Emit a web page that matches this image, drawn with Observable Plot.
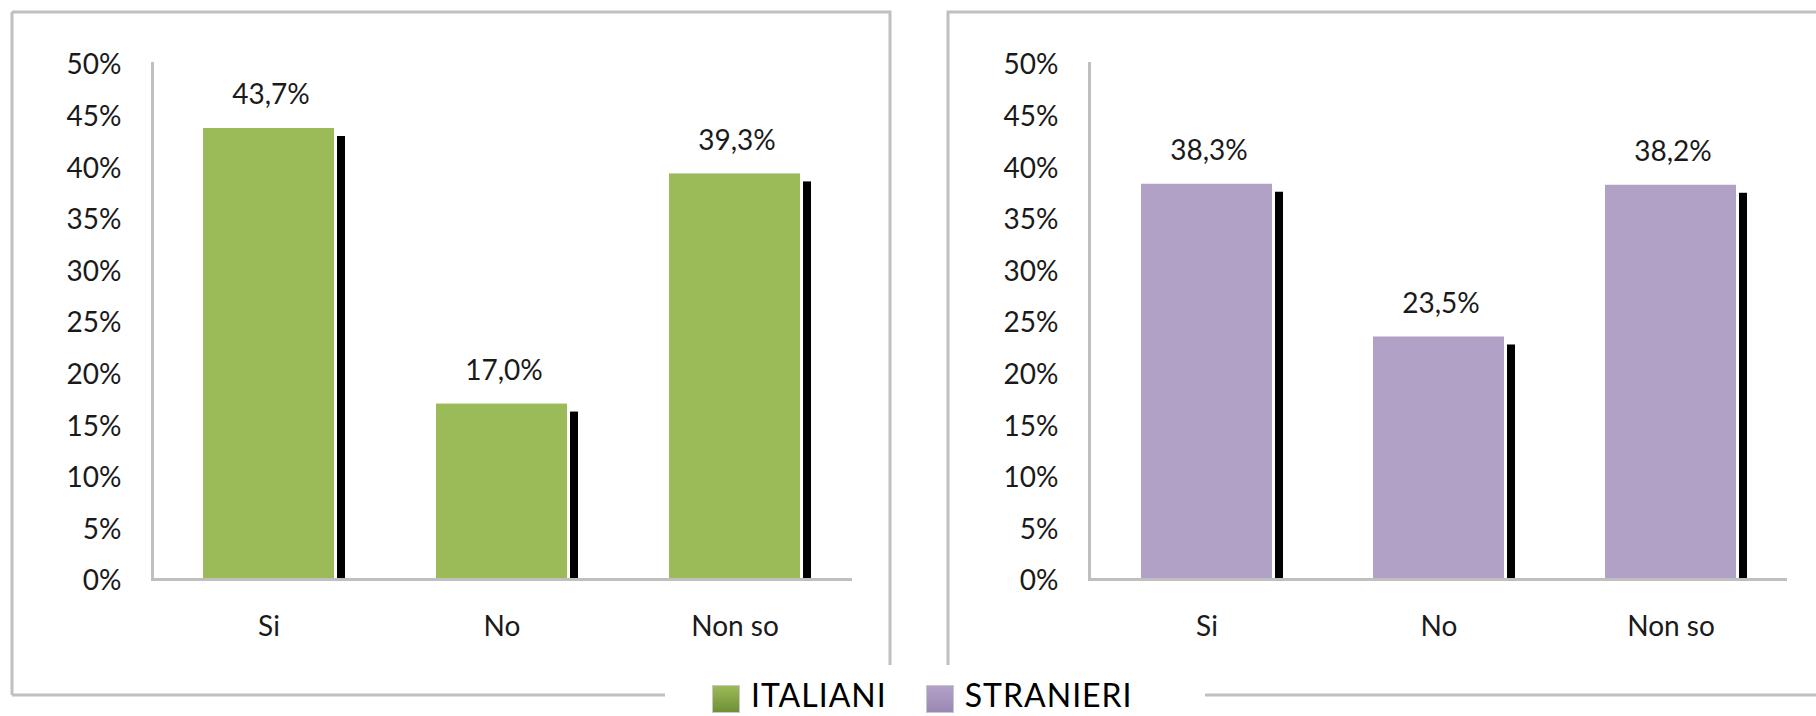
<!DOCTYPE html>
<html>
<head>
<meta charset="utf-8">
<script src="https://cdn.jsdelivr.net/npm/d3@7"></script>
<script src="https://cdn.jsdelivr.net/npm/@observablehq/plot@0.6"></script>
<style>
  html, body { margin: 0; padding: 0; background: #fff; }
  #root { position: relative; width: 1816px; height: 716px; overflow: hidden; background: #fff; font-family: Lato, "Open Sans", sans-serif; }
  .panel { position: absolute; top: 12px; }
  #frames { position: absolute; left: 0; top: 0; pointer-events: none; }
  #legend { position: absolute; left: 712px; top: 679px; display: flex; align-items: flex-start; font-family: Lato, sans-serif; font-size: 32px; line-height: 1; color: #000; letter-spacing: 1px; }
  .item { display: flex; align-items: flex-start; margin-right: 39px; }
  .sw { width: 26px; height: 26px; margin-top: 6px; margin-right: 11px; border: 1px solid #c8c8c8; box-sizing: content-box; }
</style>
</head>
<body>
<div id="root">
  <div id="left" class="panel" style="left:12px"></div>
  <div id="right" class="panel" style="left:948px"></div>
  <div id="legend"></div>
  <svg id="frames" width="1816" height="716"></svg>
</div>
<script>
const categories = ["Si", "No", "Non so"];
const italiani = [0.437, 0.170, 0.393];
const stranieri = [0.383, 0.235, 0.382];
const yTicks = [0, 0.05, 0.10, 0.15, 0.20, 0.25, 0.30, 0.35, 0.40, 0.45, 0.50];
const seriesNames = ["ITALIANI", "STRANIERI"];
const seriesColors = ["#9bbb59", "#b2a1c7"];
const swatchColors = ["#6f8f35", "#9a88b4"];

const fmtLabel = v => (v * 100).toFixed(1).replace(".", ",") + "%";
const fmtTick = v => Math.round(v * 100) + "%";

function panel(values, color, width, mL, mR) {
  const data = categories.map((c, i) => ({cat: c, value: values[i]}));
  return Plot.plot({
    width, height: 653,
    marginLeft: mL, marginRight: mR, marginTop: 51, marginBottom: 86,
    style: {fontFamily: "Lato, sans-serif", fontSize: "28px", color: "#1a1a1a", background: "transparent", overflow: "visible"},
    x: {domain: categories, paddingInner: 0.437, paddingOuter: 0.2185, label: null},
    y: {domain: [0, 0.5], label: null},
    marks: [
      Plot.axisX({tickSize: 0, tickPadding: 37, label: null}),
      Plot.axisY({ticks: yTicks, tickFormat: fmtTick, tickSize: 0, tickPadding: 31, dy: 2, label: null}),
      Plot.barY(data, {x: "cat", y: "value", fill: "black", dx: 11, insetTop: 8}),
      Plot.barY(data, {x: "cat", y: "value", fill: "white", dx: 3}),
      Plot.barY(data, {x: "cat", y: "value", fill: color}),
      Plot.frame({anchor: "left", stroke: "#bfbfbf", strokeWidth: 3}),
      Plot.ruleY([0], {stroke: "#bfbfbf", strokeWidth: 3}),
      Plot.text(data, {x: "cat", y: "value", text: d => fmtLabel(d.value), dy: -33, dx: 2, fontSize: 28, fill: "#1a1a1a"})
    ]
  });
}

document.getElementById("left").appendChild(panel(italiani, seriesColors[0], 878, 140, 38));
document.getElementById("right").appendChild(panel(stranieri, seriesColors[1], 868, 141, 29));

// legend
const legend = d3.select("#legend");
seriesNames.forEach((name, i) => {
  const it = legend.append("div").attr("class", "item");
  it.append("div").attr("class", "sw")
    .style("background", `linear-gradient(${seriesColors[i]}, ${swatchColors[i]})`);
  it.append("span").text(name);
});

// panel frames
const frames = d3.select("#frames");
const framePaths = [
  "M12,12V695", "M12,12H890V665", "M12,695H665",
  "M948,665V12H1816", "M1205,695H1816"
];
frames.selectAll("path").data(framePaths).join("path")
  .attr("d", d => d).attr("fill", "none")
  .attr("stroke", "#c0c0c0").attr("stroke-width", 3);
</script>
</body>
</html>
